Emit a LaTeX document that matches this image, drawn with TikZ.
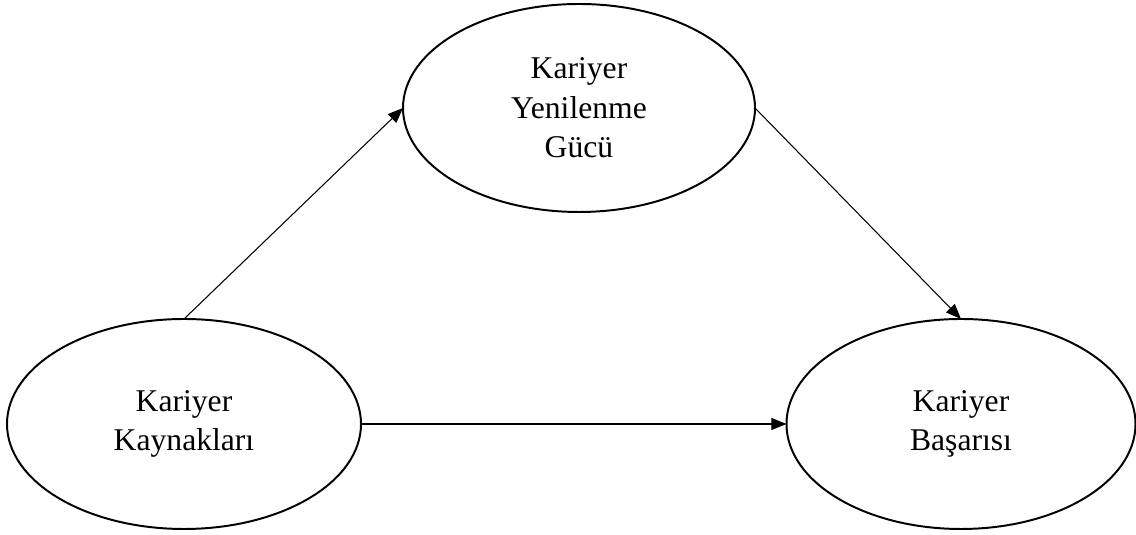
\documentclass[tikz,border=0pt]{standalone}
\usepackage{fontspec}
\setmainfont{Liberation Serif}
\usetikzlibrary{shapes.geometric,arrows.meta}

\begin{document}
\begin{tikzpicture}[
  construct/.style={ellipse,draw,line width=1.4pt,outer sep=0pt,align=center,
    font=\fontsize{22.5}{28}\selectfont},
  path/.style={line width=0.75pt,-{Triangle[length=0.38cm,width=0.3cm]}}]
\useasboundingbox (0,0) rectangle (28.4,13.375);

\node[construct,minimum width=8.85cm,minimum height=5.25cm] at (4.6,2.775) (kk) {Kariyer\\Kaynakları};
\node[construct,minimum width=8.8cm,minimum height=5.2cm] at (14.475,10.675) (kyg) {Kariyer\\Yenilenme\\Gücü};
\node[construct,minimum width=8.725cm,minimum height=5.25cm] at (24.025,2.775) (kb) {Kariyer\\Başarısı};

\draw[path] (kk.north) -- (kyg.west);
\draw[path] (kyg.east) -- (kb.north);
\draw[path] (kk.east) -- (kb.west);
\end{tikzpicture}
\end{document}
